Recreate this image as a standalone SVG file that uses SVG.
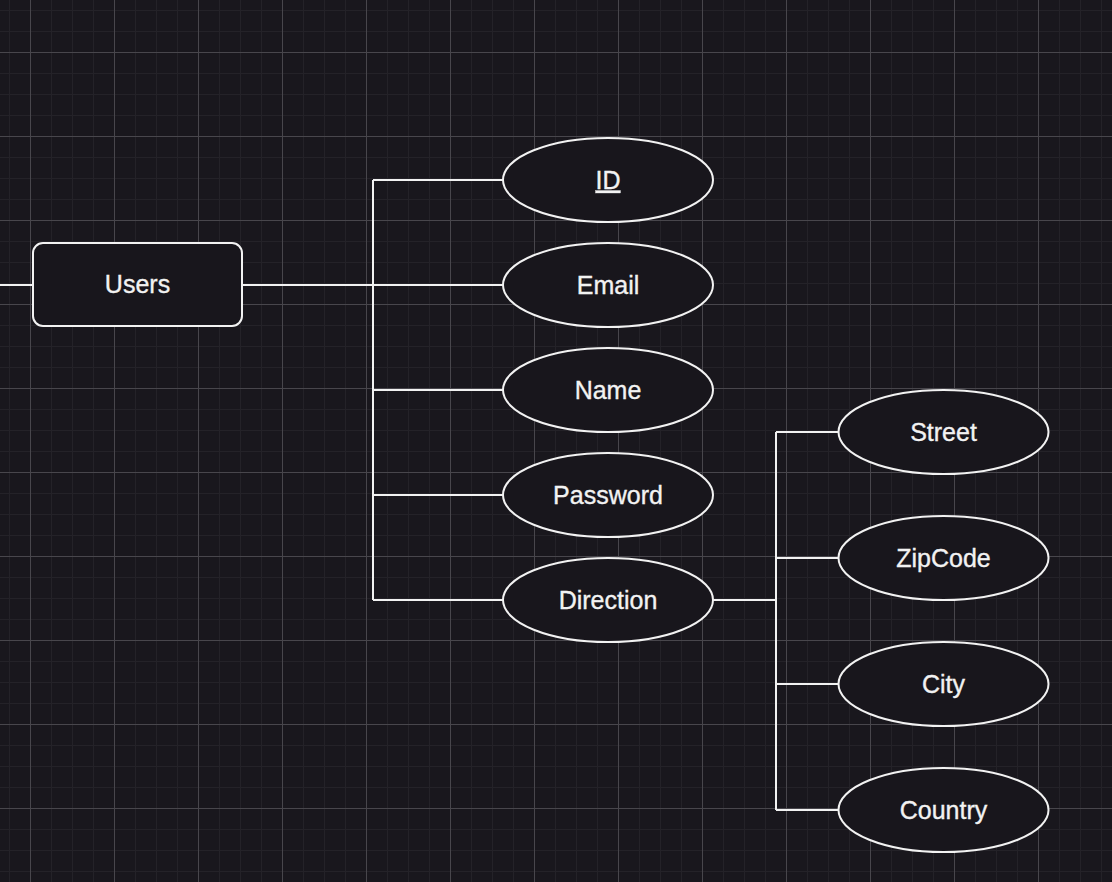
<svg xmlns="http://www.w3.org/2000/svg" width="1112" height="882" viewBox="0 0 1112 882">
<defs>
<pattern id="grid" x="30" y="52" width="84" height="84" patternUnits="userSpaceOnUse">
<rect width="84" height="84" fill="#19171d"/>
<g stroke="#242228" stroke-width="1">
<line x1="21.5" y1="0" x2="21.5" y2="84"/>
<line x1="42.5" y1="0" x2="42.5" y2="84"/>
<line x1="63.5" y1="0" x2="63.5" y2="84"/>
<line x1="0" y1="21.5" x2="84" y2="21.5"/>
<line x1="0" y1="42.5" x2="84" y2="42.5"/>
<line x1="0" y1="63.5" x2="84" y2="63.5"/>
</g>
<g stroke="#48464c" stroke-width="1">
<line x1="0.5" y1="0" x2="0.5" y2="84"/>
<line x1="0" y1="0.5" x2="84" y2="0.5"/>
</g>
</pattern>
<style>
.shape{fill:#18161c;stroke:#f2f2f2;stroke-width:2}
.lbl{font-family:"Liberation Sans",Arial,sans-serif;font-size:25px;fill:#f2f2f2;stroke:#f2f2f2;stroke-width:0.35;text-anchor:middle}
.conn{fill:none;stroke:#f2f2f2;stroke-width:2}
</style>
</defs>
<rect width="1112" height="882" fill="url(#grid)"/>
<g id="connectors" class="conn">
<path d="M0 285H33"/>
<path d="M242 285H503"/>
<path d="M373 180V600"/>
<path d="M373 180H503M373 390H503M373 495H503M373 600H503"/>
<path d="M713 600H776"/>
<path d="M776 432V810"/>
<path d="M776 432H838M776 558H838M776 684H838M776 810H838"/>
</g>
<g id="users"><rect class="shape" x="33" y="243" width="209" height="83" rx="10"/><text class="lbl" x="137.5" y="293">Users</text></g>
<g id="id"><ellipse class="shape" cx="608" cy="180" rx="105" ry="42"/><text class="lbl" x="608" y="188.5" text-decoration="underline">ID</text></g>
<g id="email"><ellipse class="shape" cx="608" cy="285" rx="105" ry="42"/><text class="lbl" x="608" y="293.5">Email</text></g>
<g id="name"><ellipse class="shape" cx="608" cy="390" rx="105" ry="42"/><text class="lbl" x="608" y="398.5">Name</text></g>
<g id="password"><ellipse class="shape" cx="608" cy="495" rx="105" ry="42"/><text class="lbl" x="608" y="503.5">Password</text></g>
<g id="direction"><ellipse class="shape" cx="608" cy="600" rx="105" ry="42"/><text class="lbl" x="608" y="608.5">Direction</text></g>
<g id="street"><ellipse class="shape" cx="943.5" cy="432" rx="105" ry="42"/><text class="lbl" x="943.5" y="440.5">Street</text></g>
<g id="zipcode"><ellipse class="shape" cx="943.5" cy="558" rx="105" ry="42"/><text class="lbl" x="943.5" y="566.5">ZipCode</text></g>
<g id="city"><ellipse class="shape" cx="943.5" cy="684" rx="105" ry="42"/><text class="lbl" x="943.5" y="692.5">City</text></g>
<g id="country"><ellipse class="shape" cx="943.5" cy="810" rx="105" ry="42"/><text class="lbl" x="943.5" y="818.5">Country</text></g>
</svg>
